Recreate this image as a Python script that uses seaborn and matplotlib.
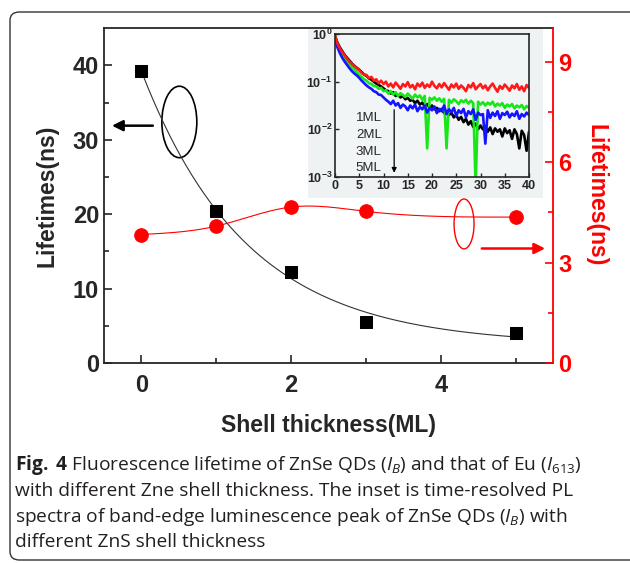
import numpy as np
import matplotlib
matplotlib.use("Agg")
import matplotlib.pyplot as plt
import seaborn as sns
from matplotlib.patches import Ellipse, FancyBboxPatch

# main panel: lifetimes vs ZnS shell thickness
shell_ml = [0, 1, 2, 3, 5]
zns_lifetime = [39.2, 20.5, 12.2, 5.5, 4.1]   # ZnSe QDs (I_B), left axis
eu_lifetime = [3.84, 4.09, 4.66, 4.53, 4.36]  # Eu (I_613), right axis

# inset: PL decay, log10 of normalised intensity read every 0.5 ns (0..40 ns)
inset_time = np.arange(0, 40.5, 0.5)
decay_1ml = [-0.03, -0.18, -0.28, -0.36, -0.44, -0.5, -0.56, -0.62, -0.67, -0.71, -0.75,
             -0.8, -0.85, -0.88, -0.93, -0.96, -1.0, -1.04, -1.07, -1.1, -1.14,
             -1.18, -1.2, -1.25, -1.22, -1.3, -1.28, -1.33, -1.3, -1.37, -1.34,
             -1.4, -1.38, -1.45, -1.4, -1.48, -1.44, -1.52, -1.47, -1.55, -1.5,
             -1.58, -1.55, -1.62, -1.57, -1.66, -1.62, -1.7, -1.65, -1.75, -1.7,
             -1.8, -1.74, -1.85, -1.78, -1.9, -1.83, -1.95, -1.88, -2.0, -1.92,
             -2.0, -1.94, -2.05, -1.96, -2.1, -1.98, -2.05, -2.0, -2.15, -1.98,
             -2.08, -2.02, -2.2, -2.0, -2.1, -2.4, -2.03, -2.12, -2.45, -2.05]
decay_2ml = [-0.05, -0.22, -0.33, -0.42, -0.5, -0.58, -0.64, -0.7, -0.75, -0.8, -0.86,
             -0.9, -0.95, -0.98, -1.03, -1.05, -1.09, -1.1, -1.15, -1.13, -1.2,
             -1.18, -1.25, -1.2, -1.27, -1.22, -1.3, -1.24, -1.28, -1.32, -1.25,
             -1.3, -1.36, -1.27, -1.33, -1.29, -1.38, -1.3, -2.4, -1.34, -1.38,
             -1.33, -1.4, -1.35, -1.42, -1.36, -2.4, -1.38, -1.44, -1.37, -1.41,
             -1.47, -1.39, -1.43, -1.38, -1.46, -1.4, -1.45, -3.2, -1.42, -1.48,
             -1.43, -1.5, -1.44, -1.48, -1.42, -1.52, -1.46, -1.5, -1.45, -1.55,
             -1.48, -1.52, -1.47, -1.56, -1.5, -1.54, -1.49, -1.58, -1.51, -1.55]
decay_3ml = [-0.08, -0.28, -0.4, -0.5, -0.58, -0.65, -0.72, -0.78, -0.83, -0.87, -0.92,
             -0.98, -1.03, -1.08, -1.12, -1.15, -1.2, -1.22, -1.27, -1.28, -1.33,
             -1.38, -1.42, -1.47, -1.4, -1.5, -1.45, -1.55, -1.48, -1.52, -1.6,
             -1.5, -1.56, -1.48, -1.62, -1.53, -1.58, -1.5, -1.65, -1.55, -1.6,
             -1.52, -1.66, -1.57, -1.62, -1.5, -1.68, -1.58, -1.64, -1.55, -1.72,
             -1.6, -1.66, -1.57, -1.75, -1.62, -1.68, -1.58, -1.8, -1.65, -1.7,
             -1.68, -2.3, -1.6, -1.76, -1.65, -1.72, -1.62, -1.78, -1.66, -1.7,
             -1.63, -1.75, -1.67, -1.72, -1.62, -1.78, -1.68, -1.73, -1.65, -1.7]
decay_5ml = [-0.05, -0.2, -0.3, -0.38, -0.45, -0.52, -0.58, -0.63, -0.68, -0.72, -0.76,
             -0.82, -0.85, -0.86, -0.93, -0.9, -0.98, -0.95, -1.03, -0.98, -1.05,
             -1.0, -1.1, -1.04, -1.12, -1.02, -1.08, -1.15, -1.05, -1.1, -1.01,
             -1.12, -1.07, -1.16, -1.04, -1.1, -1.02, -1.13, -1.06, -1.11, -1.0,
             -1.09, -1.14, -1.05, -1.12, -1.03, -1.1, -1.17, -1.06, -1.12, -1.04,
             -1.15, -1.08, -1.13, -1.2, -1.07, -1.12, -1.03, -1.16, -1.1, -1.05,
             -1.14, -1.08, -1.18, -1.1, -1.04, -1.13, -1.21, -1.09, -1.15, -1.06,
             -1.12, -1.19, -1.08, -1.14, -1.05, -1.17, -1.1, -1.2, -1.07, -1.13]
inset_series = [(decay_1ml, "black"), (decay_2ml, "#19e619"),
                (decay_3ml, "#1414ff"), (decay_5ml, "#ff1a1a")]
shell_labels = ["1ML", "2ML", "3ML", "5ML"]

caption_lines = [
    r"$\mathbf{Fig.}$ $\mathbf{4}$ Fluorescence lifetime of ZnSe QDs ($\mathit{I}_{\mathit{B}}$) and that of Eu ($\mathit{I}_{613}$)",
    "with different Zne shell thickness. The inset is time-resolved PL",
    r"spectra of band-edge luminescence peak of ZnSe QDs ($\mathit{I}_{\mathit{B}}$) with",
    "different ZnS shell thickness",
]


def exp_decay_fit(x, y):
    # y = y0 + A*exp(-x/tau), tau by grid search, y0/A by least squares
    x = np.asarray(x, float)
    y = np.asarray(y, float)
    best = None
    for tau in np.linspace(0.2, 5, 481):
        basis = np.column_stack([np.ones_like(x), np.exp(-x / tau)])
        coef = np.linalg.lstsq(basis, y, rcond=None)[0]
        err = np.sum((basis @ coef - y) ** 2)
        if best is None or err < best[0]:
            best = (err, tau, coef)
    _, tau, coef = best
    return lambda t: coef[0] + coef[1] * np.exp(-t / tau)


def natural_spline(x, y, xs):
    x = np.asarray(x, float)
    y = np.asarray(y, float)
    n = len(x)
    h = np.diff(x)
    mat = np.zeros((n, n))
    rhs = np.zeros(n)
    mat[0, 0] = mat[-1, -1] = 1
    for i in range(1, n - 1):
        mat[i, i - 1] = h[i - 1]
        mat[i, i] = 2 * (h[i - 1] + h[i])
        mat[i, i + 1] = h[i]
        rhs[i] = 6 * ((y[i + 1] - y[i]) / h[i] - (y[i] - y[i - 1]) / h[i - 1])
    m = np.linalg.solve(mat, rhs)
    idx = np.clip(np.searchsorted(x, xs) - 1, 0, n - 2)
    x0, x1 = x[idx], x[idx + 1]
    hh = x1 - x0
    a = (x1 - xs) / hh
    b = (xs - x0) / hh
    return a * y[idx] + b * y[idx + 1] + ((a ** 3 - a) * m[idx] + (b ** 3 - b) * m[idx + 1]) * hh ** 2 / 6


sns.set_style("ticks")
plt.rcParams["font.family"] = ["Liberation Sans", "DejaVu Sans"]
plt.rcParams["mathtext.fontset"] = "custom"
plt.rcParams["mathtext.rm"] = "Open Sans"
plt.rcParams["mathtext.it"] = "Open Sans:italic"
plt.rcParams["mathtext.bf"] = "Open Sans:bold"

fig = plt.figure(figsize=(6.3, 5.63), dpi=100)

# ---- main axes
ax = fig.add_axes([0.165, 0.355, 0.713, 0.595])
x_smooth = np.linspace(0, 5, 200)
fit = exp_decay_fit(shell_ml, zns_lifetime)
sns.lineplot(x=x_smooth, y=fit(x_smooth), ax=ax, color="#333333", lw=0.8)
sns.scatterplot(x=shell_ml, y=zns_lifetime, ax=ax, marker="s", s=85,
                color="black", edgecolor="black", zorder=3)
ax.set_xlim(-0.5, 5.5)
ax.set_ylim(0, 45)
ax.set_xticks([0, 2, 4])
ax.set_xticks([1, 3, 5], minor=True)
ax.set_yticks([0, 10, 20, 30, 40])
ax.set_yticks([5, 15, 25, 35], minor=True)
ax.tick_params(which="both", direction="in", width=1.2, labelsize=17)
ax.tick_params(which="major", length=6)
ax.tick_params(which="minor", length=3.5)
for lab in ax.get_xticklabels() + ax.get_yticklabels():
    lab.set_fontweight("bold")
ax.tick_params(axis="x", pad=8)
for s in ax.spines.values():
    s.set_linewidth(1.3)
ax.spines["right"].set_visible(False)
ax.set_xlabel("Shell thickness(ML)", fontsize=16.5, fontweight="bold")
ax.set_ylabel("Lifetimes(ns)", fontsize=16.5, fontweight="bold")
ax.xaxis.set_label_coords(0.5, -0.152)
ax.yaxis.set_label_coords(-0.102, 0.5)

# annotations: ellipse + arrow pointing at each axis
ax.add_patch(Ellipse((0.507, 32.4), 0.467, 9.6, fill=False, ec="black", lw=1.2))
ax.annotate("", xy=(-0.43, 31.9), xytext=(0.19, 31.9),
            arrowprops=dict(arrowstyle="-|>", color="black", lw=1.8, mutation_scale=16))
ax.add_patch(Ellipse((4.31, 18.7), 0.267, 6.7, fill=False, ec="red", lw=1.0, zorder=4))
ax.annotate("", xy=(5.43, 15.4), xytext=(4.51, 15.4),
            arrowprops=dict(arrowstyle="-|>", color="red", lw=1.8, mutation_scale=16))

# ---- right axis
ax2 = ax.twinx()
sns.lineplot(x=x_smooth, y=natural_spline(shell_ml, eu_lifetime, x_smooth), ax=ax2,
             color="red", lw=0.8)
sns.scatterplot(x=shell_ml, y=eu_lifetime, ax=ax2, marker="o", s=95,
                color="red", edgecolor="red", zorder=3)
ax2.set_ylim(0, 10)
ax2.set_yticks([0, 3, 6, 9])
ax2.set_yticks([1.5, 4.5, 7.5], minor=True)
ax2.tick_params(which="both", direction="in", width=1.2, colors="red", labelsize=17)
ax2.tick_params(which="major", length=6)
ax2.tick_params(which="minor", length=3.5)
for lab in ax2.get_yticklabels():
    lab.set_fontweight("bold")
for name, s in ax2.spines.items():
    s.set_visible(name == "right")
ax2.spines["right"].set_color("red")
ax2.spines["right"].set_linewidth(1.3)
ax2.set_ylabel("Lifetimes(ns)", fontsize=16.5, fontweight="bold", color="red", rotation=270)
ax2.yaxis.set_label_coords(1.12, 0.5)

# ---- inset (pasted picture look: light grey background)
bg = fig.add_axes([308 / 630, 1 - 198 / 563, 235 / 630, 169 / 563])
bg.set_facecolor("#eef2f2")
bg.set_xticks([])
bg.set_yticks([])
for s in bg.spines.values():
    s.set_visible(False)

ins = fig.add_axes([335 / 630, 1 - 177 / 563, 194 / 630, 143 / 563])
ins.set_facecolor("#f2f5f5")
for values, color in inset_series:
    sns.lineplot(x=inset_time, y=10 ** np.array(values), ax=ins, color=color, lw=1.9)
ins.set_yscale("log")
ins.set_ylim(1e-3, 1)
ins.set_xlim(0, 40)
ins.set_xticks(range(0, 41, 5))
ins.yaxis.set_minor_locator(matplotlib.ticker.NullLocator())
ins.tick_params(direction="in", length=3, width=1, labelsize=9, pad=2)
for lab in ins.get_xticklabels() + ins.get_yticklabels():
    lab.set_fontweight("bold")
for s in ins.spines.values():
    s.set_linewidth(1.2)
for label, ly in zip(shell_labels, [-1.77, -2.12, -2.47, -2.82]):
    ins.text(4.3, 10 ** ly, label, fontsize=9.5, va="center", ha="left")
ins.annotate("", xy=(12.2, 10 ** -2.97), xytext=(12.2, 10 ** -1.53),
             arrowprops=dict(arrowstyle="-|>", color="black", lw=0.9, mutation_scale=7))

# ---- caption + frame
for i, line in enumerate(caption_lines):
    fig.text(15 / 630, 1 - (465 + 25.8 * i) / 563, line, fontsize=13.8,
             family=["Open Sans", "DejaVu Sans"], color="#231f20", va="center", ha="left")

frame = FancyBboxPatch((10 / 630, 3 / 563), 630 / 630, 548 / 563,
                       boxstyle="round,pad=0,rounding_size=0.015",
                       transform=fig.transFigure, fill=False, ec="#333333", lw=1.0)
fig.patches.append(frame)

fig.savefig("out.png", dpi=100)
